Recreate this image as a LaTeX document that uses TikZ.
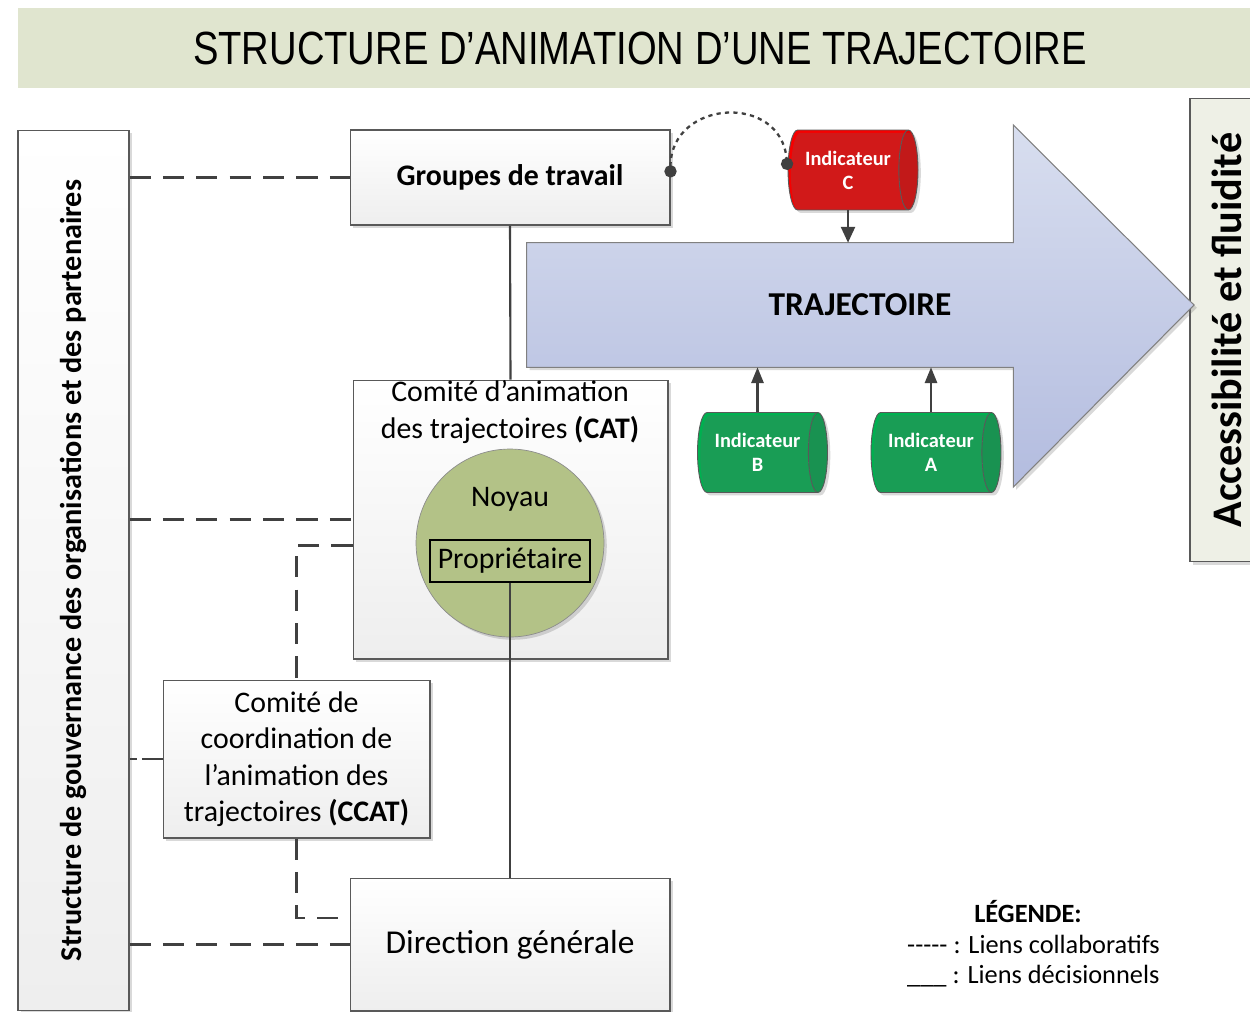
\documentclass[tikz,border=0pt]{standalone}
\usepackage{fontspec}
\setmainfont{Carlito}
\newfontfamily\titlefont[FakeStretch=0.82]{Liberation Sans}
\usetikzlibrary{shapes.geometric,arrows.meta,shadows,positioning}

\definecolor{titlebg}{HTML}{E0E5CF}
\definecolor{goalbg}{HTML}{EEF0E6}
\definecolor{boxgray}{HTML}{EEEEEE}
\definecolor{boxline}{HTML}{595959}
\definecolor{linkgray}{HTML}{404040}
\definecolor{noyaugreen}{HTML}{B3C287}
\definecolor{trajtop}{HTML}{D8DEEF}
\definecolor{trajbot}{HTML}{B3BCDF}
\definecolor{indred}{HTML}{F60000}
\definecolor{indgreen}{HTML}{00B050}

\tikzset{
  softshadow/.style={drop shadow={shadow xshift=1.6pt,shadow yshift=-1.6pt,opacity=.25,fill=black!60}},
  box/.style={draw=boxline,line width=.6pt,top color=white,bottom color=boxgray,
    softshadow,inner sep=0pt,align=center},
  collab/.style={draw=linkgray,line width=1.6pt,dash pattern=on 12pt off 7pt},
  decis/.style={draw=linkgray,line width=1.2pt},
  dotlink/.style={draw=linkgray,line width=1.3pt,dash pattern=on 2.4pt off 2.4pt},
  indic/.style={cylinder,shape aspect=.5,draw=boxline,line width=.5pt,
    minimum width=1.6cm,minimum height=2.6cm,inner sep=0pt,align=center,
    text=white,font=\fontsize{11.6}{13.6}\selectfont\bfseries,
    cylinder uses custom fill,softshadow},
  txt/.style={font=\fontsize{17}{20.7}\selectfont,align=center,inner sep=0pt},
}

\begin{document}
\begin{tikzpicture}[x=0.02cm,y=-0.02cm]
\useasboundingbox (0,0) rectangle (1250,1011);

% title band
\node[fill=titlebg,minimum width=24.88cm,minimum height=1.6cm,inner sep=0pt,
  font=\titlefont\fontsize{26.5}{30}\selectfont] (title) at (640,48)
  {STRUCTURE D’ANIMATION D’UNE TRAJECTOIRE};

% side bars
\node[box,rotate=90,minimum width=17.62cm,minimum height=2.22cm,
  font=\fontsize{17.2}{20}\selectfont\bfseries] (gov) at (73.5,570.5)
  {Structure de gouvernance des organisations et des partenaires};
\node[draw=boxline,line width=.6pt,fill=goalbg,rotate=90,minimum width=9.28cm,
  minimum height=1.48cm,inner sep=0pt,softshadow,
  font=\fontsize{24}{28}\selectfont\bfseries] (goal) at (1227,330)
  {Accessibilité et fluidité};

% boxes
\node[box,txt,minimum width=6.4cm,minimum height=1.9cm,font=\fontsize{17}{20.7}\selectfont\bfseries]
  (grp) at (510,177.5) {Groupes de travail};
\node[box,minimum width=6.3cm,minimum height=5.58cm] (cat) at (510.5,519.5) {};
\node[txt] (cattxt) at (510,412) {Comité d’animation\\des trajectoires \textbf{(CAT)}};
\node[circle,draw=black!45,fill=noyaugreen,minimum size=3.76cm,softshadow] (noyau) at (510,543) {};
\node[txt] (noyautxt) at (510,499) {Noyau};
\node[txt,draw=black,line width=.6pt,minimum width=3.2cm,minimum height=.84cm] (prop) at (510,561) {Propriétaire};
\node[box,txt,minimum width=5.34cm,minimum height=3.16cm] (ccat) at (296.5,759)
  {Comité de\\coordination de\\l’animation des\\trajectoires \textbf{(CCAT)}};
\node[box,minimum width=6.4cm,minimum height=2.66cm,font=\fontsize{19}{23}\selectfont]
  (dg) at (510,944.5) {Direction générale};

% trajectoire arrow
\node[minimum width=9.72cm,minimum height=2.48cm,inner sep=0pt] (traj) at (770,305) {};
\path[draw=black!50,line width=.6pt,top color=trajtop,bottom color=trajbot,softshadow]
  (traj.north west) -- (traj.north east) -- (traj.north east |- 0,125) -- (1194,305)
  -- (traj.south east |- 0,487) -- (traj.south east) -- (traj.south west) -- cycle;
\node[font=\fontsize{19}{23}\selectfont\bfseries] (trajtxt) at (860,305) {TRAJECTOIRE};

% indicateurs
\node[indic,cylinder body fill=indred,cylinder end fill=indred!92!black] (indC) at (848,170) {Indicateur\\C};
\node[indic,cylinder body fill=indgreen,cylinder end fill=indgreen!92!black] (indB) at (757.5,452.5) {Indicateur\\B};
\node[indic,cylinder body fill=indgreen,cylinder end fill=indgreen!92!black] (indA) at (931,452.5) {Indicateur\\A};

\draw[decis,-{Triangle[length=9pt,width=8pt]}] (indC.south) -- (indC.south |- traj.north);
\draw[decis,-{Triangle[length=9pt,width=7pt]}] (indB.north) -- (indB.north |- traj.south);
\draw[decis,-{Triangle[length=9pt,width=7pt]}] (indA.north) -- (indA.north |- traj.south);
\draw[dotlink,{Circle[length=7pt,fill=linkgray]}-{Circle[length=7pt,fill=linkgray]}]
  (grp.east) to[out=90,in=95,looseness=1.7] (indC.west);

% liens decisionnels
\draw[decis] (grp.south) -- (cat.north);
\draw[decis] (prop.south) -- (dg.north);

% liens collaboratifs
\draw[collab] (grp.west -| gov.south) -- (grp.west);
\draw[collab] (cat.west -| gov.south) -- (cat.west);
\draw[collab,dash pattern=on 4pt off 3pt on 12pt off 7pt] (ccat.west -| gov.south) -- (ccat.west);
\draw[collab] (dg.west -| gov.south) -- (dg.west);
\draw[collab] ([shift={(0,26)}]cat.west) -| (ccat.north);
\draw[collab] (ccat.south) |- ([shift={(-10,-26.5)}]dg.west);

% legende
\node[font=\fontsize{15}{18}\selectfont\bfseries] (leg) at (1028,912) {LÉGENDE:};
\node[anchor=west,font=\fontsize{15}{18}\selectfont] (leg1) at (901,944) {{-}{-}{-}{-}{-} : Liens collaboratifs};
\node[anchor=west,font=\fontsize{15}{18}\selectfont] (leg2) at (901,976) {\_\_\_ : Liens décisionnels};
\end{tikzpicture}
\end{document}
